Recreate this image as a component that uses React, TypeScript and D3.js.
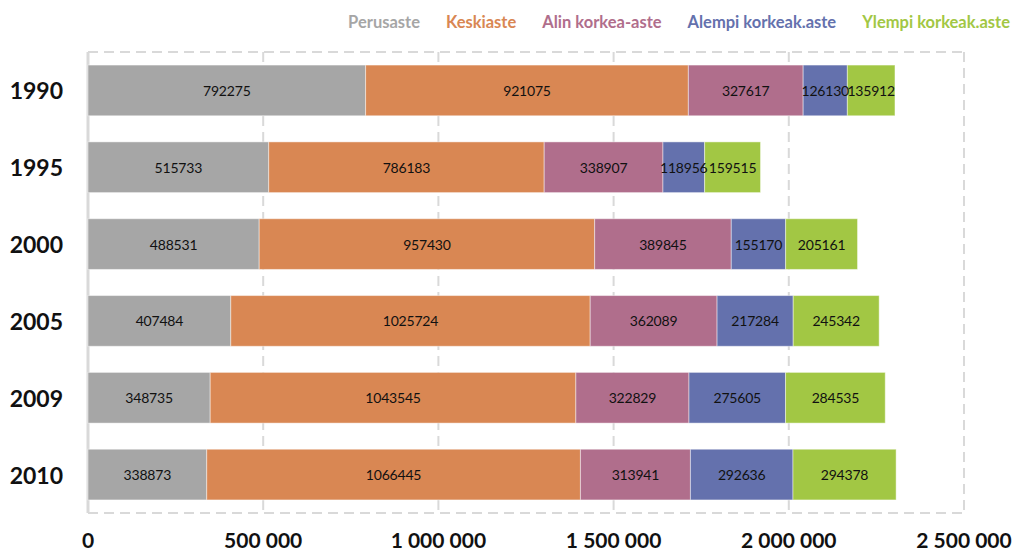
import * as React from 'react';
import {useEffect, useRef} from 'react';
import * as d3 from 'd3';

const years = ['1990', '1995', '2000', '2005', '2009', '2010'];
const seriesNames = ['Perusaste', 'Keskiaste', 'Alin korkea-aste', 'Alempi korkeak.aste', 'Ylempi korkeak.aste'];
const seriesColors = ['#a6a6a6', '#d98753', '#b06e8c', '#6471ad', '#a2c744'];

const perusaste = [792275, 515733, 488531, 407484, 348735, 338873];
const keskiaste = [921075, 786183, 957430, 1025724, 1043545, 1066445];
const alinKorkea = [327617, 338907, 389845, 362089, 322829, 313941];
const alempiKorkeak = [126130, 118956, 155170, 217284, 275605, 292636];
const ylempiKorkeak = [135912, 159515, 205161, 245342, 284535, 294378];

const xTicks = [0, 500000, 1000000, 1500000, 2000000, 2500000];

const W = 1030;
const H = 554;
const FONT = 'Lato, "Open Sans", sans-serif';

function App() {
    const ref = useRef<SVGSVGElement>(null);

    useEffect(() => {
        const svg = d3.select(ref.current);
        svg.selectAll('*').remove();

        const margin = {top: 52, right: 66, bottom: 41, left: 88};

        const rows = years.map((y, i) => ({
            year: y,
            values: [perusaste[i], keskiaste[i], alinKorkea[i], alempiKorkeak[i], ylempiKorkeak[i]],
        }));

        const x = d3.scaleLinear()
            .domain([0, 2500000])
            .range([margin.left, W - margin.right]);

        const y = d3.scaleBand()
            .domain(years)
            .range([margin.top, H - margin.bottom])
            .paddingInner(0.34)
            .paddingOuter(0.17);

        const grid = svg.append('g');
        // top and bottom dashed border
        [margin.top, H - margin.bottom].forEach(yy => {
            grid.append('line')
                .attr('x1', margin.left).attr('x2', W - margin.right)
                .attr('y1', yy).attr('y2', yy)
                .attr('stroke', '#d9d9d9').attr('stroke-width', 2)
                .attr('stroke-dasharray', '10,6');
        });
        grid.selectAll('.vgrid')
            .data(xTicks.slice(1))
            .enter()
            .append('line')
            .attr('x1', d => x(d)).attr('x2', d => x(d))
            .attr('y1', margin.top).attr('y2', H - margin.bottom)
            .attr('stroke', '#d9d9d9').attr('stroke-width', 2)
            .attr('stroke-dasharray', '10,6');
        grid.append('line')
            .attr('x1', x(0)).attr('x2', x(0))
            .attr('y1', margin.top).attr('y2', H - margin.bottom)
            .attr('stroke', '#d9d9d9').attr('stroke-width', 3);

        const stack = d3.stack<any>()
            .keys(seriesNames.map((_, i) => String(i)))
            .value((d, k) => d.values[+k]);
        const layers = stack(rows);

        layers.forEach((layer, si) => {
            const g = svg.append('g');
            g.selectAll('rect')
                .data(layer)
                .enter()
                .append('rect')
                .attr('x', d => x(d[0]))
                .attr('y', d => y(d.data.year)!)
                .attr('width', d => x(d[1]) - x(d[0]))
                .attr('height', y.bandwidth())
                .attr('fill', seriesColors[si])
                .attr('stroke', 'rgba(255,255,255,0.45)')
                .attr('stroke-width', 1);
        });
        // value labels on top of every bar segment
        layers.forEach(layer => {
            svg.append('g').selectAll('text')
                .data(layer)
                .enter()
                .append('text')
                .attr('x', d => (x(d[0]) + x(d[1])) / 2)
                .attr('y', d => y(d.data.year)! + y.bandwidth() / 2)
                .attr('text-anchor', 'middle')
                .attr('dominant-baseline', 'central')
                .attr('font-family', FONT)
                .attr('font-size', 14)
                .attr('letter-spacing', -0.2)
                .attr('fill', '#111')
                .text(d => String(d[1] - d[0]));
        });

        svg.append('g').selectAll('text')
            .data(years)
            .enter()
            .append('text')
            .attr('x', 63)
            .attr('y', d => y(d)! + y.bandwidth() / 2)
            .attr('text-anchor', 'end')
            .attr('dominant-baseline', 'central')
            .attr('font-family', FONT)
            .attr('font-weight', 'bold')
            .attr('font-size', 23)
            .attr('fill', '#111')
            .text(d => d);

        const fmt = (v: number) => d3.format(',')(v).replace(/,/g, ' ');
        svg.append('g').selectAll('text')
            .data(xTicks)
            .enter()
            .append('text')
            .attr('x', d => x(d))
            .attr('y', 548)
            .attr('text-anchor', 'middle')
            .attr('font-family', FONT)
            .attr('font-weight', 'bold')
            .attr('font-size', 21)
            .attr('fill', '#111')
            .text(d => fmt(d));

        // legend, laid out from the right edge
        const legend = svg.append('g');
        const items = legend.selectAll('text')
            .data(seriesNames)
            .enter()
            .append('text')
            .attr('y', 22)
            .attr('dominant-baseline', 'central')
            .attr('font-family', FONT)
            .attr('font-weight', 'bold')
            .attr('font-size', 16.5)
            .attr('fill', (d, i) => seriesColors[i])
            .text(d => d);
        const nodes = items.nodes() as SVGTextElement[];
        let right = 1010;
        for (let i = nodes.length - 1; i >= 0; i--) {
            const w = nodes[i].getComputedTextLength();
            d3.select(nodes[i]).attr('x', right - w);
            right = right - w - 26;
        }
    }, []);

    return (
        <svg ref={ref} width={W} height={H}
             style={{position: 'absolute', left: 0, top: 0, background: '#fff'}} />
    );
}

export default App;
